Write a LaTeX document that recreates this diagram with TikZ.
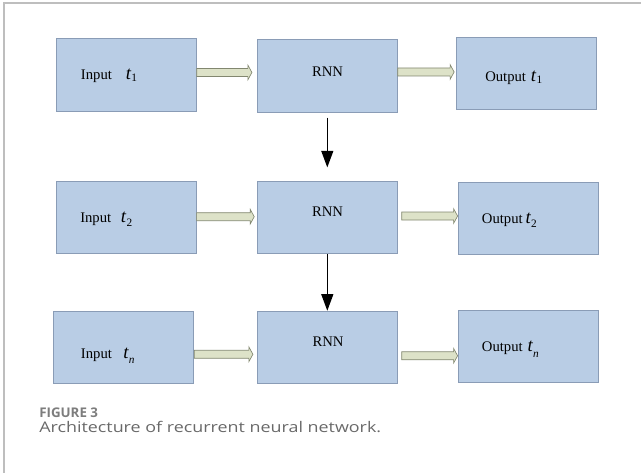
\documentclass[tikz,border=0pt]{standalone}
\usepackage{fontspec}
\setmainfont{Liberation Serif}
\newfontfamily\capfont[FakeStretch=1.22]{Open Sans}
\newfontfamily\figfont{Open Sans}
\usetikzlibrary{arrows.meta,calc}
\definecolor{boxfill}{RGB}{185,205,229}
\definecolor{boxline}{RGB}{138,156,182}
\definecolor{arrowfill}{RGB}{221,226,200}
\definecolor{arrowline}{RGB}{130,135,112}
\definecolor{framegray}{RGB}{190,190,190}
\definecolor{capgray}{RGB}{105,105,105}
\definecolor{figgray}{RGB}{125,125,125}
\newcommand\tsub[2][-3pt]{{\fontsize{14pt}{16pt}\selectfont\textit{t}}\raisebox{#1}{\fontsize{8.5pt}{9pt}\selectfont #2}}
\begin{document}
\begin{tikzpicture}[x=0.75pt,y=-0.75pt,
 box/.style={rectangle, fill=boxfill, draw=boxline, line width=0.6pt, minimum width=105pt, minimum height=54.5pt, inner sep=0pt},
 lbl/.style={font=\fontsize{11pt}{13pt}\selectfont, inner sep=0pt, anchor=base west},
 rnnlbl/.style={font=\fontsize{11pt}{13pt}\selectfont, inner sep=0pt, anchor=base},
 fat/.style={draw=arrowline, fill=arrowfill, line width=0.5pt, line join=miter,
   to path={let \p1=(\tikztostart), \p2=(\tikztotarget) in
     (\x1,\y1+3pt) -- (\x2-3pt,\y1+3pt) -- (\x2-3pt,\y1+5.5pt) -- (\x2,\y1) -- (\x2-3pt,\y1-5.5pt) -- (\x2-3pt,\y1-3pt) -- (\x1,\y1-3pt) -- cycle}},
 down/.style={line width=1pt, -{Triangle[length=12.5pt,width=9pt]}},
]
\useasboundingbox (0,0) rectangle (641,473);
\draw[framegray, line width=1.1pt] (4,473) -- (4,3) -- (641,3);

\node[box] (in1) at (126.3,75) {};
\node[box] (rnn1) at (327.3,76) {};
\node[box] (out1) at (526,73.5) {};
\node[box] (in2) at (126.2,217.5) {};
\node[box] (rnn2) at (327.3,217.5) {};
\node[box] (out2) at (528,218.5) {};
\node[box] (in3) at (123.8,347.5) {};
\node[box] (rnn3) at (327.3,347.5) {};
\node[box] (out3) at (528,346.5) {};

\node[lbl] (in1t) at (80.7,80) {Input\hspace{10.5pt}\tsub[-1.5pt]{1}};
\node[lbl] (in2t) at (80,223) {Input\hspace{7.3pt}\tsub{2}};
\node[lbl] (in3t) at (80.7,358.3) {Input\hspace{8.5pt}\tsub[-4pt]{\textit{n}}};
\node[rnnlbl] (rnn1t) at (327.5,76.5) {RNN};
\node[rnnlbl] (rnn2t) at (327.5,217) {RNN};
\node[rnnlbl] (rnn3t) at (328,346.5) {RNN};
\node[lbl] (out1t) at (485,81.7) {Output\hspace{3.7pt}\tsub[-1.5pt]{1}};
\node[lbl] (out2t) at (481.7,224) {Output\hspace{2.2pt}\tsub{2}};
\node[lbl] (out3t) at (481.7,351.7) {Output\hspace{3.7pt}\tsub[-4pt]{\textit{n}}};

\draw[fat] ([yshift=1.9pt]in1.east) to ([xshift=-3.75pt]rnn1.west);
\draw[fat] ([yshift=3pt]rnn1.east) to ([xshift=-1.1pt]out1.west);
\draw[fat] ([yshift=0.6pt]in2.east) to ([xshift=-2pt]rnn2.west);
\draw[fat] ([xshift=3pt,yshift=1.1pt]rnn2.east) to (out2.west);
\draw[fat] ([yshift=-5.1pt]in3.east) to ([xshift=-3pt]rnn3.west);
\draw[fat] ([xshift=3pt,yshift=-6.2pt]rnn3.east) to (out3.west);

\draw[down, shorten <=3.6pt, shorten >=10pt] (rnn1.south) -- (rnn2.north);
\draw[down] (rnn2.south) -- (rnn3.north);

\node[anchor=base west, inner sep=0pt, font=\figfont\bfseries\fontsize{10pt}{12pt}\selectfont, text=figgray] (fig) at (39,417.7) {FIGURE 3};
\node[anchor=base west, inner sep=0pt, font=\capfont\fontsize{11pt}{13pt}\selectfont, text=capgray] (cap) at (39,432) {Architecture of recurrent neural network.};
\end{tikzpicture}
\end{document}
